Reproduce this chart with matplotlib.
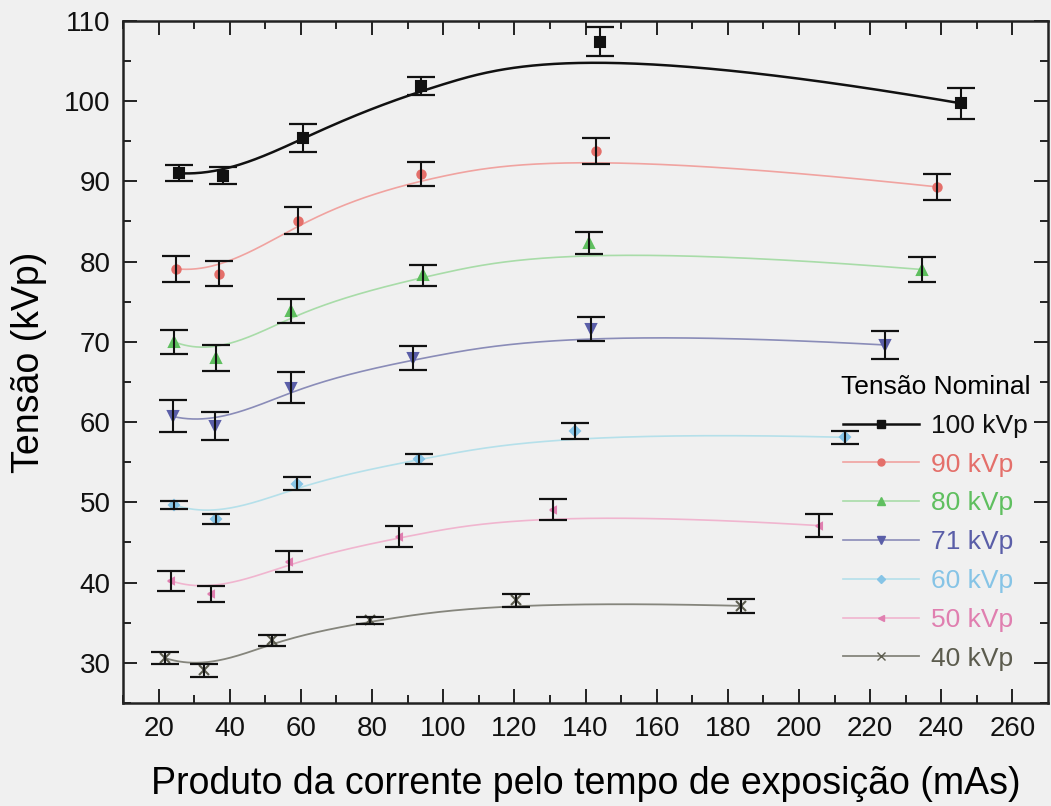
import numpy as np
import matplotlib
matplotlib.use("Agg")
import matplotlib.pyplot as plt
from matplotlib.lines import Line2D

plt.rcParams['font.family'] = ['Liberation Sans', 'DejaVu Sans']

# ---- data ----
labels = ["100 kVp", "90 kVp", "80 kVp", "71 kVp", "60 kVp", "50 kVp", "40 kVp"]

x100 = [25.7, 38.2, 60.6, 93.9, 144.0, 245.6]
y100 = [91.0, 90.7, 95.4, 101.9, 107.4, 99.7]
e100 = [1.0, 1.1, 1.7, 1.1, 1.8, 1.9]

x90 = [24.8, 36.9, 59.2, 93.9, 142.9, 238.8]
y90 = [79.1, 78.5, 85.1, 90.9, 93.8, 89.3]
e90 = [1.6, 1.6, 1.7, 1.5, 1.6, 1.6]

x80 = [24.3, 36.0, 57.3, 94.3, 141.1, 234.7]
y80 = [70.0, 68.0, 73.8, 78.3, 82.3, 79.0]
e80 = [1.5, 1.6, 1.5, 1.3, 1.4, 1.5]

x71 = [24.0, 35.8, 57.3, 91.5, 141.6, 224.3]
y71 = [60.7, 59.5, 64.3, 68.0, 71.6, 69.6]
e71 = [2.0, 1.7, 1.9, 1.5, 1.5, 1.7]

x60 = [24.3, 36.0, 58.9, 93.3, 137.1, 213.0]
y60 = [49.7, 47.9, 52.3, 55.4, 58.9, 58.1]
e60 = [0.5, 0.6, 0.8, 0.6, 1.0, 0.8]

x50 = [23.6, 34.6, 56.6, 87.5, 131.0, 205.6]
y50 = [40.2, 38.6, 42.6, 45.7, 49.1, 47.1]
e50 = [1.25, 1.0, 1.3, 1.3, 1.3, 1.4]

x40 = [21.8, 32.7, 51.9, 79.5, 120.4, 183.8]
y40 = [30.6, 29.05, 32.8, 35.3, 37.8, 37.1]
e40 = [0.8, 0.75, 0.7, 0.45, 0.8, 0.9]

xs = [x100, x90, x80, x71, x60, x50, x40]
ys = [y100, y90, y80, y71, y60, y50, y40]
es = [e100, e90, e80, e71, e60, e50, e40]

colors = ['#111111', '#e46f6a', '#5fbf5f', '#5a5ea8', '#86c4e6', '#e07fb0', '#5c5c4e']
linecolors = ['#111111', '#f0a3a0', '#a8dca8', '#8a8cb8', '#b5e0ea', '#f0b5cf', '#85857c']
markers = ['s', 'o', '^', 'v', 'D', '<', 'x']
msizes = [6.5, 6, 6.5, 7, 5, 5, 7]
lwidths = [1.8, 1.2, 1.2, 1.2, 1.2, 1.2, 1.3]


def bspline(px, py, n=300, k=3):
    """Clamped uniform B-spline using data points as control points."""
    P = np.column_stack([px, py]).astype(float)
    m = len(P)
    inner = np.arange(1, m - k)
    knots = np.concatenate([np.zeros(k + 1), inner, np.full(k + 1, m - k)]).astype(float)
    t = np.linspace(0, m - k, n)
    t[-1] -= 1e-9
    N = np.zeros((n, len(knots) - 1))
    for i in range(len(knots) - 1):
        N[:, i] = ((t >= knots[i]) & (t < knots[i + 1])).astype(float)
    for d in range(1, k + 1):
        Nn = np.zeros((n, len(knots) - 1 - d))
        for i in range(len(knots) - 1 - d):
            a = knots[i + d] - knots[i]
            b = knots[i + d + 1] - knots[i + 1]
            term = 0
            if a > 0:
                term = term + (t - knots[i]) / a * N[:, i]
            if b > 0:
                term = term + (knots[i + d + 1] - t) / b * N[:, i + 1]
            Nn[:, i] = term
        N = Nn
    C = N @ P
    return C[:, 0], C[:, 1]


fig = plt.figure(figsize=(10.51, 8.06), dpi=100, facecolor='#f0f0f0')
ax = fig.add_axes([123 / 1051, 1 - 703 / 806, (1048 - 123) / 1051, (703 - 20.7) / 806])
ax.set_facecolor('#f0f0f0')

for i in range(len(labels)):
    cx, cy = bspline(xs[i], ys[i])
    ax.plot(cx, cy, color=linecolors[i], lw=lwidths[i], zorder=2)
    ax.plot(xs[i], ys[i], ls='none', marker=markers[i], ms=msizes[i],
            color=colors[i], mec=colors[i], mew=1.5, zorder=3)
    ax.errorbar(xs[i], ys[i], yerr=es[i], fmt='none', ecolor='#111111',
                elinewidth=1.5, capsize=10, capthick=1.6, zorder=4)

ax.set_xlim(10, 270)
ax.set_ylim(25, 110)
ax.set_xticks(np.arange(20, 261, 20))
ax.set_xticks(np.arange(10, 270, 10), minor=True)
ax.set_yticks(np.arange(30, 111, 10))
ax.set_yticks(np.arange(25, 111, 5), minor=True)

ax.tick_params(which='both', direction='in', top=True, right=True, width=1.4, color='#222222')
ax.tick_params(which='major', length=10, labelsize=20, pad=9, labelcolor='#111111')
ax.tick_params(which='minor', length=6)
for s in ax.spines.values():
    s.set_linewidth(1.8)
    s.set_color('#222222')

ax.set_xlabel('Produto da corrente pelo tempo de exposição (mAs)', fontsize=27, labelpad=18)
ax.set_ylabel('Tensão (kVp)', fontsize=27, labelpad=12)

handles = [Line2D([0], [0], color=linecolors[i] if i else colors[i], lw=lwidths[i],
                  marker=markers[i], ms=msizes[i] - 1, mfc=colors[i], mec=colors[i])
           for i in range(len(labels))]
leg = ax.legend(handles, labels, title='Tensão Nominal', loc='upper right',
                bbox_to_anchor=(0.992, 0.496), frameon=False, fontsize=19,
                title_fontsize=19, handlelength=2.9, handletextpad=0.45,
                labelspacing=0.56, borderaxespad=0)
for txt, c in zip(leg.get_texts(), colors):
    txt.set_color(c)

fig.savefig('out.png', dpi=100, facecolor=fig.get_facecolor())
